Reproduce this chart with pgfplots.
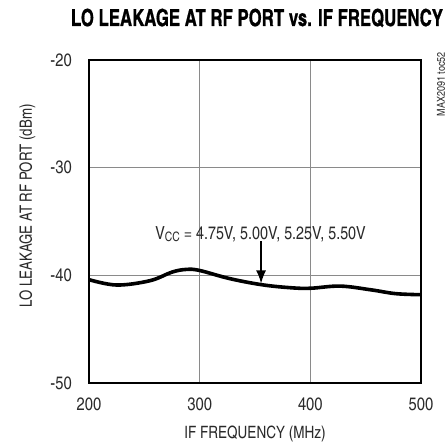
\documentclass[border=0pt]{standalone}
\usepackage{fontspec}
\setmainfont{texgyreheroscn-regular.otf}[BoldFont=texgyreheroscn-bold.otf]
\newfontfamily\titlefont{texgyreheroscn-bold.otf}[FakeBold=0.8]
\usepackage{graphicx}
\usepackage{pgfplots}
\pgfplotsset{compat=1.18}
\usetikzlibrary{arrows.meta}
\definecolor{txt}{HTML}{2A2A2A}
\definecolor{gridc}{HTML}{8A8A8A}
\newcommand\nar[1]{\scalebox{0.97}[1]{#1}}
\begin{document}
\begin{tikzpicture}
\begin{axis}[
    scale only axis,
    width=332pt, height=323pt,
    xmin=200, xmax=500,
    ymin=-50, ymax=-20,
    xtick={200,300,400,500},
    ytick={-50,-40,-30,-20},
    grid=major,
    major grid style={gridc, line width=0.9pt},
    major tick length=0pt,
    axis line style={black, line width=2.4pt},
    tick label style={font=\fontsize{18}{20}\selectfont, text=txt, inner sep=0pt},
    /pgf/number format/assume math mode=true,
    xticklabel style={anchor=north, yshift=-15pt},
    yticklabel style={anchor=east, xshift=-17pt},
    xlabel={\nar{IF FREQUENCY (MHz)}},
    ylabel={\scalebox{0.95}[1]{LO LEAKAGE AT RF PORT (dBm)}},
    label style={font=\fontsize{17}{19}\selectfont, text=txt, inner sep=0pt},
    xlabel style={at={(axis description cs:0.5,-0.1703)}, anchor=base},
    ylabel style={at={(axis description cs:-0.172,0.548)}, anchor=base},
    title={\scalebox{0.87}[1]{\titlefont LO LEAKAGE AT RF PORT vs. IF FREQUENCY}},
    title style={font=\fontsize{23.5}{26}\selectfont, text=black, inner sep=0pt,
        at={(axis description cs:0.506,1.0867)}, anchor=base},
    clip=false,
]
\addplot[black, line width=3.6pt, smooth, tension=0.6] coordinates {
    (200,-40.4) (225,-40.9) (255,-40.5) (275,-39.7) (288,-39.45) (300,-39.55)
    (327,-40.3) (356,-40.87) (382,-41.15) (400,-41.2) (427,-41.0) (455,-41.35)
    (477,-41.7) (500,-41.8)
};
\node[font=\fontsize{18}{20}\selectfont, text=txt, anchor=base, inner sep=0pt] at (axis cs:355,-36.66)
    {\nar{V\raisebox{-0.25ex}{\fontsize{13}{14}\selectfont CC} = 4.75V, 5.00V, 5.25V, 5.50V}};
\draw[-{Latex[length=13pt,width=10pt]}, black, line width=1.3pt] (axis cs:355.5,-36.85) -- (axis cs:355.5,-40.75);
\node[rotate=90, anchor=east, font=\fontsize{11}{12}\selectfont, text=txt, inner sep=0pt] at (axis cs:518,-19.26) {MAX2091 toc52};
\end{axis}
\path (current axis.south west) ++(-89pt,-57pt) rectangle ++(448pt,440pt);
\end{tikzpicture}
\end{document}
